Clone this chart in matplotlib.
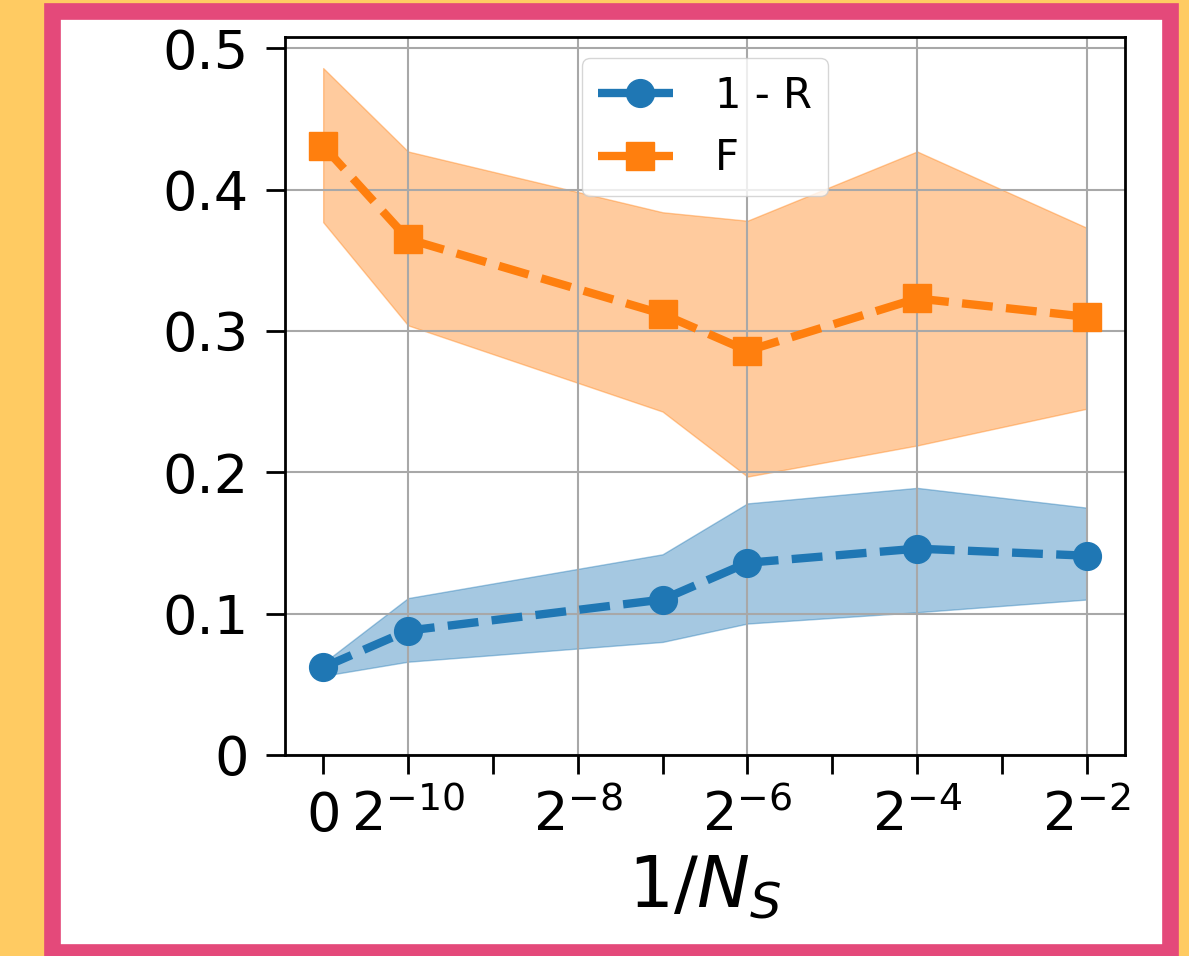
import numpy as np
import matplotlib
matplotlib.use("Agg")
import matplotlib.pyplot as plt
from matplotlib.patches import Rectangle

# 1/N_S sample positions
x = [0, 2**-10, 2**-7, 2**-6, 2**-4, 2**-2]

# 1 - R (mean and band)
r_mean = [0.062, 0.088, 0.110, 0.136, 0.146, 0.141]
r_low = [0.056, 0.066, 0.080, 0.093, 0.101, 0.110]
r_high = [0.065, 0.111, 0.142, 0.178, 0.189, 0.175]

# F (mean and band)
f_mean = [0.431, 0.365, 0.312, 0.286, 0.323, 0.310]
f_low = [0.377, 0.304, 0.243, 0.197, 0.219, 0.245]
f_high = [0.486, 0.427, 0.384, 0.378, 0.427, 0.373]

major_x = [2**-10, 2**-8, 2**-6, 2**-4, 2**-2]
major_lab = [r'$2^{-10}$', r'$2^{-8}$', r'$2^{-6}$', r'$2^{-4}$', r'$2^{-2}$']
minor_x = [0, 2**-9, 2**-7, 2**-5, 2**-3]
minor_lab = ['0', '', '', '', '']
y_ticks = [0, 0.1, 0.2, 0.3, 0.4, 0.5]
y_lab = ['0', '0.1', '0.2', '0.3', '0.4', '0.5']

fig = plt.figure(figsize=(11.89, 9.56), dpi=100)
fig.patch.set_facecolor('#FFCB62')
frame = Rectangle((52/1189, 1 - 952/956), (1170 - 52)/1189, (952 - 11)/956,
                  transform=fig.transFigure, facecolor='white',
                  edgecolor='#E4497A', lw=12, zorder=-1)
fig.add_artist(frame)

ax = fig.add_axes([285/1189, 1 - 755/956, (1125 - 285)/1189, (755 - 37)/956])
ax.set_xscale('symlog', base=2, linthresh=2**-10, linscale=0.5)

ax.fill_between(x, r_low, r_high, color='tab:blue', alpha=0.4)
ax.fill_between(x, f_low, f_high, color='tab:orange', alpha=0.4)
ax.plot(x, r_mean, '--o', color='tab:blue', lw=6, ms=20, label='1 - R')
ax.plot(x, f_mean, '--s', color='tab:orange', lw=6, ms=20, label='F')

ax.set_xticks(major_x, major_lab)
ax.set_xticks(minor_x, minor_lab, minor=True)
ax.set_yticks(y_ticks, y_lab)
ax.set_ylim(0, 0.508)

ax.grid(True, which='major', color='#a8a8a8', lw=1.5)
ax.tick_params(which='both', length=14, width=2, labelsize=39)
ax.tick_params(axis='y', pad=12)
ax.tick_params(axis='x', which='both', pad=11)
for s in ax.spines.values():
    s.set_linewidth(2)

ax.set_xlabel(r'$1/N_S$', fontsize=51, labelpad=8)
ax.legend(loc='upper center', fontsize=30)

fig.savefig('out.png', dpi=100, facecolor=fig.get_facecolor())
